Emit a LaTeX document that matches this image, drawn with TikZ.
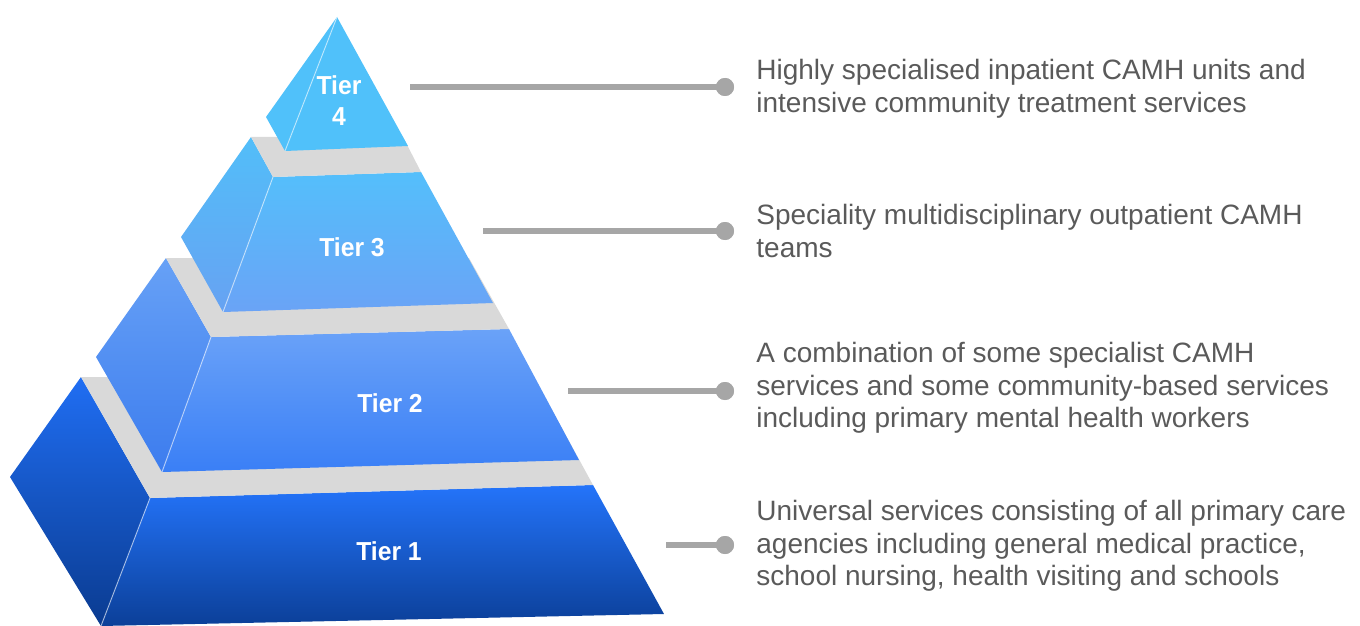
\documentclass[tikz,border=0pt]{standalone}
\usepackage{fontspec}
\setmainfont{Liberation Sans}
\newfontfamily\lblfont{Liberation Sans}[FakeStretch=0.95]
\definecolor{txtgrey}{HTML}{5A5A5A}
\definecolor{lngrey}{HTML}{A6A6A6}
\definecolor{ledgegrey}{HTML}{D9D9D9}
\definecolor{tfour}{HTML}{50C1FA}
\definecolor{tthreetop}{HTML}{54BFFB}
\definecolor{tthreebot}{HTML}{6AA3F6}
\definecolor{tthreesidetop}{HTML}{52BEF9}
\definecolor{tthreesidebot}{HTML}{67A2F2}
\definecolor{ttwotop}{HTML}{6AA2F8}
\definecolor{ttwobot}{HTML}{3A7FF6}
\definecolor{ttwosidetop}{HTML}{67A1F6}
\definecolor{ttwosidebot}{HTML}{3C7CEE}
\definecolor{tonetop}{HTML}{2474FA}
\definecolor{tonemid}{HTML}{1C63E6}
\definecolor{tonebot}{HTML}{0B3F98}
\definecolor{tonesidetop}{HTML}{206EF3}
\definecolor{tonesidemid}{HTML}{1C62E2}
\definecolor{tonesidebot}{HTML}{0A3B90}
\begin{document}
\begin{tikzpicture}[x=0.5pt,y=-0.5pt,
  desc/.style={anchor=west,align=left,text=txtgrey,font=\fontsize{14}{16.25}\selectfont,inner sep=0pt},
  tierlbl/.style={text=white,font=\lblfont\bfseries\fontsize{13}{15.5}\selectfont,align=center,inner sep=0pt},
  conn/.style={draw=lngrey,line width=2.6pt},
  dotnode/.style={circle,fill=lngrey,minimum size=9pt,inner sep=0pt},
  ledge/.style={fill=ledgegrey},
  ridge/.style={draw=white,draw opacity=0.55,line width=0.5pt}]
\useasboundingbox (0,0) rectangle (1360,626);
% ---- geometry ----
% Tier 1
\coordinate (B1) at (81,377);  \coordinate (L1) at (10,477);
\coordinate (T1) at (150,498); \coordinate (U1) at (593,485);
\coordinate (V1) at (664,614); \coordinate (W1) at (101,626);
\coordinate (G1) at (534,377);
% Tier 2
\coordinate (B2) at (166,258); \coordinate (L2) at (96,357);
\coordinate (T2) at (211,337); \coordinate (U2) at (509,329);
\coordinate (V2) at (579,460); \coordinate (W2) at (162,472);
\coordinate (G2) at (469,258);
% Tier 3
\coordinate (B3) at (251,137); \coordinate (L3) at (181,237);
\coordinate (T3) at (273,177); \coordinate (U3) at (421,172);
\coordinate (V3) at (493,303); \coordinate (W3) at (223,312);
\coordinate (G3) at (403,137);
% Tier 4
\coordinate (A4) at (337,17);  \coordinate (S4) at (266,117);
\coordinate (F4) at (285,151); \coordinate (R4) at (408,146);
% ---- tier 1 ----
\shade[top color=tonesidetop,middle color=tonesidemid,bottom color=tonesidebot] (B1) -- (L1) -- (W1) -- (T1) -- cycle;
\shade[top color=tonetop,middle color=tonemid,bottom color=tonebot] (T1) -- (U1) -- (V1) -- (W1) -- cycle;
\draw[ridge] (T1) -- (W1);
\fill[ledge] (B1) -- (T1) -- (U1) -- (G1) -- cycle;
% ---- tier 2 ----
\shade[top color=ttwosidetop,bottom color=ttwosidebot] (B2) -- (L2) -- (W2) -- (T2) -- cycle;
\shade[top color=ttwotop,bottom color=ttwobot] (T2) -- (U2) -- (V2) -- (W2) -- cycle;
\draw[ridge] (T2) -- (W2);
\fill[ledge] (B2) -- (T2) -- (U2) -- (G2) -- cycle;
% ---- tier 3 ----
\shade[top color=tthreesidetop,bottom color=tthreesidebot] (B3) -- (L3) -- (W3) -- (T3) -- cycle;
\shade[top color=tthreetop,bottom color=tthreebot] (T3) -- (U3) -- (V3) -- (W3) -- cycle;
\draw[ridge] (T3) -- (W3);
\fill[ledge] (B3) -- (T3) -- (U3) -- (G3) -- cycle;
% ---- tier 4 ----
\fill[tfour] (A4) -- (S4) -- (F4) -- cycle;
\fill[tfour] (A4) -- (R4) -- (F4) -- cycle;
\draw[ridge] (A4) -- (F4);
% ---- labels ----
\node[tierlbl] (lab4) at (339,101) {Tier\\4};
\node[tierlbl] (lab3) at (352,247) {Tier 3};
\node[tierlbl] (lab2) at (390,403) {Tier 2};
\node[tierlbl] (lab1) at (389,551) {Tier 1};
% ---- connectors ----
\coordinate (s4) at (410,87);
\coordinate (s3) at (483,231);
\coordinate (s2) at (568,391);
\coordinate (s1) at (666,545);
\node[dotnode] (d4) at (725,87) {};
\node[dotnode] (d3) at (725,231) {};
\node[dotnode] (d2) at (725,391) {};
\node[dotnode] (d1) at (725,545) {};
\draw[conn] (s4) -- (d4.center);
\draw[conn] (s3) -- (d3.center);
\draw[conn] (s2) -- (d2.center);
\draw[conn] (s1) -- (d1.center);
\node[dotnode] at (d4) {};
\node[dotnode] at (d3) {};
\node[dotnode] at (d2) {};
\node[dotnode] at (d1) {};
% ---- descriptions ----
\node[desc] (x4) at (756,89) {Highly specialised inpatient CAMH units and\\intensive community treatment services};
\node[desc] (x3) at (756,231) {Speciality multidisciplinary outpatient CAMH\\teams};
\node[desc] (x2) at (756,388) {A combination of some specialist CAMH\\services and some community-based services\\including primary mental health workers};
\node[desc] (x1) at (756,546) {Universal services consisting of all primary care\\agencies including general medical practice,\\school nursing, health visiting and schools};
\end{tikzpicture}
\end{document}
